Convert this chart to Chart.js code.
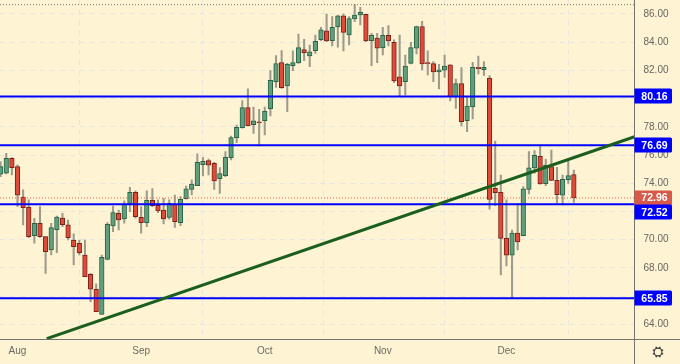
<!DOCTYPE html>
<html><head><meta charset="utf-8">
<style>html,body{margin:0;padding:0;background:#fef3d3}#w{position:relative;width:680px;height:364px}</style>
<script src="https://cdn.jsdelivr.net/npm/chart.js@4/dist/chart.umd.min.js"></script>
</head><body><div id="w"><canvas id="c" width="680" height="364"></canvas></div>
<script>
const firstIndex=-3;
const opens=[74.64,74.71,75.77,75.18,73.03,72.30,70.29,71.17,70.22,69.28,70.72,71.54,71.05,69.98,69.75,68.92,67.55,66.49,64.71,68.61,70.98,71.87,71.47,72.58,73.36,71.59,71.21,72.79,72.44,72.11,71.59,72.53,71.21,72.91,73.57,73.83,75.32,75.61,75.42,74.33,74.54,75.82,77.24,77.94,79.36,78.16,78.35,78.44,79.29,81.20,82.55,80.90,82.34,82.53,83.47,83.02,83.40,84.18,84.80,84.11,85.08,85.86,84.51,85.65,85.93,85.98,84.11,84.30,83.61,84.49,83.99,81.55,81.20,82.50,83.57,85.10,82.55,82.48,81.89,82.01,82.39,80.14,81.06,78.44,79.43,82.22,82.05,81.46,73.64,73.36,70.10,68.90,70.48,70.29,73.57,75.09,75.91,73.98,75.18,74.21,73.15,74.26,74.61];
const highs=[75.54,76.13,75.82,75.30,73.53,72.82,71.52,72.35,70.22,71.17,71.68,71.87,71.40,70.41,69.98,69.98,67.62,66.87,68.92,71.21,72.39,72.11,72.75,73.72,73.46,72.35,73.46,73.62,72.82,72.94,72.82,73.17,73.05,73.81,74.24,76.08,75.84,75.72,75.49,75.11,76.24,77.35,78.13,79.86,80.69,79.40,79.24,79.40,81.98,83.05,83.40,82.50,83.38,84.58,84.20,83.80,84.51,85.06,86.00,85.81,85.93,86.00,85.81,86.69,86.47,86.00,84.63,84.63,85.06,85.17,84.16,84.51,83.09,83.99,85.15,85.48,83.38,82.62,82.43,83.09,82.39,81.39,82.20,80.14,82.57,83.02,82.62,81.63,77.00,74.59,72.82,70.69,72.58,73.76,76.24,76.31,76.64,75.70,76.36,75.13,74.59,75.61,74.94];
const lows=[74.47,74.66,74.59,72.35,71.05,70.15,69.75,70.17,67.62,68.92,69.09,70.93,69.98,68.21,68.92,67.38,65.61,64.90,64.71,68.57,70.57,70.69,71.17,71.99,71.52,70.46,70.93,72.35,71.92,71.12,71.45,70.88,71.00,72.87,73.17,73.83,74.52,74.59,73.57,73.29,74.47,75.65,76.88,77.90,78.06,77.54,76.64,77.42,78.77,80.80,80.73,79.08,81.98,82.50,82.69,82.27,83.21,84.11,84.04,83.73,83.64,83.38,83.80,85.46,85.22,84.04,82.34,82.55,83.09,83.73,81.13,80.14,80.26,82.46,83.17,82.03,81.68,81.20,80.68,81.51,79.83,79.31,78.06,77.66,78.56,81.75,81.65,72.16,72.42,67.50,68.14,65.85,69.27,70.27,73.24,74.71,73.93,73.83,74.19,72.63,72.46,74.00,72.65];
const closes=[75.18,75.77,75.11,73.15,72.28,70.22,71.17,70.22,69.16,70.86,71.61,71.07,70.15,69.51,69.09,67.38,66.49,64.90,68.75,71.09,71.92,71.40,72.53,73.36,71.64,71.21,72.79,72.42,72.04,71.47,72.58,71.28,72.87,73.60,73.95,75.49,75.56,75.28,74.16,74.69,75.84,77.24,77.97,79.36,78.09,78.42,78.27,79.10,81.30,82.48,80.78,82.43,82.55,83.61,83.26,83.31,84.06,84.87,84.09,85.06,85.86,84.70,85.67,85.93,86.12,84.09,84.49,83.57,84.49,84.09,81.25,80.90,82.31,83.61,85.10,82.46,82.48,81.89,82.05,82.31,80.14,81.06,78.37,79.48,82.22,82.13,82.22,72.86,73.34,70.10,68.90,70.48,69.84,73.60,75.09,75.98,73.95,75.27,74.21,73.20,74.28,74.54,72.96];
const monthIndex=[0,22,44,65,87];
const monthNames=['Aug','Sep','Oct','Nov','Dec'];
const priceTicks=[64,66,68,70,72,74,76,78,80,82,84,86];
const levelValues=[80.16,76.69,72.52,65.85];
const lastPrice=72.96;
const topDotted=86.66;
const trendX=[5.2,109.8];
const trendY=[62.99,77.30];
const xMin=-3.114,xMax=109.79,yMin=62.93,yMax=86.99;

const BG='#fef3d3',UP='#5f9f7e',UPB='#2a6446',DN='#dc4c39',DNB='#7c2018',WICK='rgba(120,120,112,0.72)';
const idx=opens.map((_,k)=>firstIndex+k);
const wick=idx.map((x,k)=>({x,y:[lows[k],highs[k]]}));
const body=idx.map((x,k)=>({x,y:[opens[k],closes[k]]}));
const up=opens.map((o,k)=>closes[k]>=o);
const hline=(v,color,width,dash,order)=>({type:'line',data:[{x:xMin,y:v},{x:xMax,y:v}],borderColor:color,borderWidth:width,borderDash:dash,pointRadius:0,order,tension:0});
const fmt=v=>v.toFixed(2);

const frame={id:'frame',
 beforeDraw(ch){const c=ch.ctx;c.save();c.fillStyle=BG;c.fillRect(0,0,ch.width,ch.height);c.restore();},
 afterDraw(ch){
  const c=ch.ctx,y=ch.scales.y,a=ch.chartArea;
  c.save();
  c.strokeStyle='#74746c';c.lineWidth=1;
  c.beginPath();c.moveTo(0,a.bottom);c.lineTo(ch.width,a.bottom);
  c.moveTo(a.right,0);c.lineTo(a.right,ch.height);c.stroke();
  const tag=(v,col,shift)=>{const py=y.getPixelForValue(v)+shift;
    c.fillStyle=col;c.beginPath();c.roundRect(a.right,Math.round(py)-7.5,37.5,15,[0,1.5,1.5,0]);c.fill();
    c.fillStyle='#fff';c.font='bold 10.5px "Liberation Sans",Arial,sans-serif';c.textAlign='center';c.textBaseline='middle';
    c.fillText(fmt(v),a.right+20,py+0.5);};
  tag(lastPrice,'#d6594a',0);
  levelValues.forEach(v=>tag(v,'#0000ff',v===72.52?8:0));
  const gx=658,gy=352;
  c.strokeStyle='#333';c.lineWidth=1.1;c.beginPath();c.arc(gx,gy,3.9,0,Math.PI*2);c.stroke();
  c.lineWidth=1.3;c.beginPath();
  for(let k=0;k<8;k++){const t=k*Math.PI/4+Math.PI/8;c.moveTo(gx+Math.cos(t)*3.9,gy+Math.sin(t)*3.9);c.lineTo(gx+Math.cos(t)*5.6,gy+Math.sin(t)*5.6);}
  c.stroke();
  c.restore();
 }};

new Chart(document.getElementById('c'),{
 data:{datasets:[
  hline(levelValues[0],'#0000ff',2,[],1),
  hline(levelValues[1],'#0000ff',2,[],1),
  hline(levelValues[2],'#0000ff',2,[],1),
  hline(levelValues[3],'#0000ff',2,[],1),
  {type:'line',data:trendX.map((x,k)=>({x,y:trendY[k]})),borderColor:'#1a5f1e',borderWidth:3,pointRadius:0,order:0,tension:0},
  hline(lastPrice,'#e2614f',1,[1,2],2),
  hline(topDotted,'#77776e',1,[1,2],2),
  {type:'bar',data:body,grouped:false,barThickness:4.6,order:3,borderSkipped:false,borderWidth:1,
   backgroundColor:up.map(u=>u?UP:DN),borderColor:up.map(u=>u?UPB:DNB)},
  {type:'bar',data:wick,grouped:false,barThickness:1.4,order:4,backgroundColor:WICK,borderWidth:0}
 ]},
 options:{responsive:false,animation:false,devicePixelRatio:1,
  layout:{padding:0,autoPadding:false},
  plugins:{legend:{display:false},tooltip:{enabled:false},title:{display:false}},
  scales:{
   x:{type:'linear',min:xMin,max:xMax,offset:false,
    afterBuildTicks(s){s.ticks=monthIndex.map(value=>({value}));},
    afterFit(s){s.height=24.5;s.paddingLeft=0;s.paddingRight=0;s.paddingTop=0;s.paddingBottom=0;},
    grid:{color:'#e7e5de',drawTicks:false},border:{display:false,dash:[5,5]},
    ticks:{autoSkip:false,maxRotation:0,padding:6,color:'#6a6a66',font:{family:'"Liberation Sans",Arial,sans-serif',size:10},
     callback:v=>monthNames[monthIndex.indexOf(v)]}},
   y:{type:'linear',position:'right',min:yMin,max:yMax,
    afterBuildTicks(s){s.ticks=priceTicks.map(value=>({value}));},
    afterFit(s){s.width=45.5;s.paddingLeft=0;s.paddingRight=0;s.paddingTop=0;s.paddingBottom=0;},
    grid:{color:'#e7e5de',drawTicks:false},border:{display:false,dash:[5,5]},
    ticks:{padding:9,color:'#666662',font:{family:'"Liberation Sans",Arial,sans-serif',size:10},callback:v=>v.toFixed(2)}}
  }},
 plugins:[frame]
});
</script></body></html>
